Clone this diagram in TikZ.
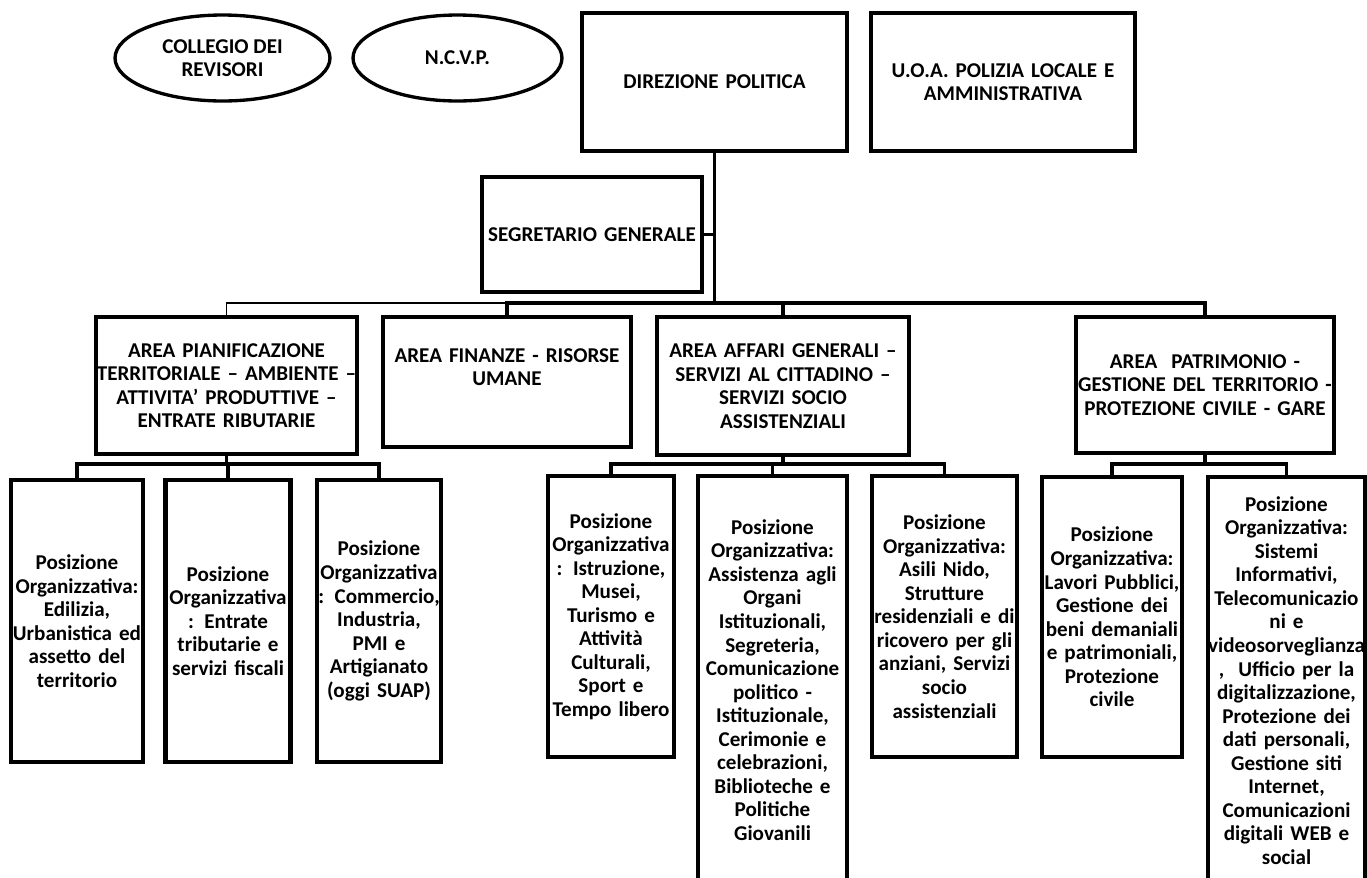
\documentclass[tikz,border=0pt]{standalone}
\usepackage{fontspec}
\setmainfont{Carlito}
\usepackage{tikz}
\usetikzlibrary{shapes.geometric}
\hyphenpenalty=10000

\tikzset{
	box/.style = {draw, line width=2.3pt, inner sep=0pt, align=center,
		font=\bfseries\fontsize{12}{13.4}\selectfont},
	oval/.style = {ellipse, draw, line width=1.9pt, inner sep=0pt, align=center,
		font=\bfseries\fontsize{12}{13.4}\selectfont},
	conn/.style = {line width=2pt},
	thinconn/.style = {line width=1pt},
}

\begin{document}
\begin{tikzpicture}[x=0.02cm, y=-0.02cm]
			\useasboundingbox (0,0) rectangle (1367,877);

			\def\busA{303};
			\def\busB{464};

			\begin{scope}
				\node [oval, minimum width=4.3cm, minimum height=1.72cm] (rev) at (222.5,58) {COLLEGIO DEI\\REVISORI};
				\node [oval, minimum width=4.18cm, minimum height=1.72cm] (ncvp) at (457.5,58) {N.C.V.P.};
				\node [box, text width=5.3cm, minimum height=2.76cm] (dir) at (714.5,82) {DIREZIONE POLITICA};
				\node [box, text width=5.28cm, minimum height=2.76cm] (uoa) at (1003,82) {U.O.A. POLIZIA LOCALE E\\AMMINISTRATIVA};
				\node [box, text width=4.4cm, minimum height=2.3cm] (seg) at (592,234.5) {SEGRETARIO~GENERALE};
			\end{scope}

			\begin{scope}
				\node [box, text width=5.22cm, minimum height=2.74cm] (pian) at (226.5,385.5) {AREA PIANIFICAZIONE\\TERRITORIALE~–~AMBIENTE~–\\ATTIVITA’ PRODUTTIVE~–\\ENTRATE RIBUTARIE};
				\node [box, text width=4.96cm, minimum height=2.6cm] (fin) at (507,382) {AREA FINANZE - RISORSE\\UMANE\\[0.3em]\mbox{}};
				\node [box, text width=5.04cm, minimum height=2.76cm] (aff) at (783,386) {AREA AFFARI GENERALI~–\\SERVIZI AL CITTADINO~–\\SERVIZI SOCIO\\ASSISTENZIALI};
				\node [box, text width=5.16cm, minimum height=2.72cm] (pat) at (1205,385) {AREA~ PATRIMONIO -\\GESTIONE DEL TERRITORIO~-\\PROTEZIONE CIVILE - GARE};
			\end{scope}

			\begin{scope}
				\node [box, text width=2.64cm, minimum height=5.64cm] (po1) at (77,621) {Posizione\\Organizzativa:\\Edilizia,\\Urbanistica~ed\\assetto del\\territorio};
				\node [box, text width=2.5cm, minimum height=5.64cm] (po2) at (228,621) {Posizione\\Organizzativa\\: Entrate\\tributarie~e\\servizi~fiscali};
				\node [box, text width=2.48cm, minimum height=5.64cm] (po3) at (379,621) {Posizione\\Organizzativa\\: Commercio,\\Industria,\\PMI e\\Artigianato\\(oggi SUAP)};

				\node [box, text width=2.52cm, minimum height=5.62cm] (poA) at (611,616.5) {Posizione\\Organizzativa\\: Istruzione,\\Musei,\\Turismo e\\Attività\\Culturali,\\Sport e\\Tempo~libero};
				\node [box, text width=2.98cm, minimum height=8.16cm] (poB) at (772.5,680) {Posizione\\Organizzativa:\\Assistenza~agli\\Organi\\Istituzionali,\\Segreteria,\\Comunicazione\\politico -\\Istituzionale,\\Cerimonie e\\celebrazioni,\\Biblioteche~e\\Politiche\\Giovanili};
				\node [box, text width=2.9cm, minimum height=5.62cm] (poC) at (944.5,616.5) {Posizione\\Organizzativa:\\Asili Nido,\\Strutture\\residenziali~e~di\\ricovero~per~gli\\anziani,~Servizi\\socio\\assistenziali};

				\node [box, text width=2.8cm, minimum height=5.6cm] (poD) at (1112,617) {Posizione\\Organizzativa:\\Lavori~Pubblici,\\Gestione~dei\\beni~demaniali\\e~patrimoniali,\\Protezione\\civile};
				\node [box, text width=3.14cm, minimum height=8.14cm] (poE) at (1286.5,680.5) {Posizione\\Organizzativa:\\Sistemi\\Informativi,\\Telecomunicazio\\ni e\\videosorveglianza\\, ~Ufficio~per~la\\digitalizzazione,\\Protezione~dei\\dati~personali,\\Gestione~siti\\Internet,\\Comunicazioni\\digitali~WEB~e\\social};
			\end{scope}

			% collegamenti
			\coordinate (bA) at (0,\busA);
			\coordinate (bB) at (0,\busB);

			\begin{scope}
				\draw [conn] (dir.south) -- (dir.south |- bA);
				\draw [conn] (seg.east) -- (seg.east -| dir.south);
				\draw [thinconn] (pian.north) |- (fin.north |- bA);
				\draw [conn] (fin.north) |- (pat.north |- bA) -- (pat.north);
				\draw [conn] (aff.north) -- (aff.north |- bA);
			\end{scope}

			\begin{scope}
				\draw [conn] (pian.south) -- (pian.south |- bB);
				\draw [conn] (po1.north) |- (po3.north |- bB) -- (po3.north);
				\draw [conn] (po2.north) -- (po2.north |- bB);

				\draw [conn] (aff.south) -- (aff.south |- bB);
				\draw [conn] (poA.north) |- (poC.north |- bB) -- (poC.north);
				\draw [conn] (poB.north) -- (poB.north |- bB);

				\draw [conn] (pat.south) -- (pat.south |- bB);
				\draw [conn] (poD.north) |- (poE.north |- bB) -- (poE.north);
			\end{scope}
		\end{tikzpicture}
\end{document}
